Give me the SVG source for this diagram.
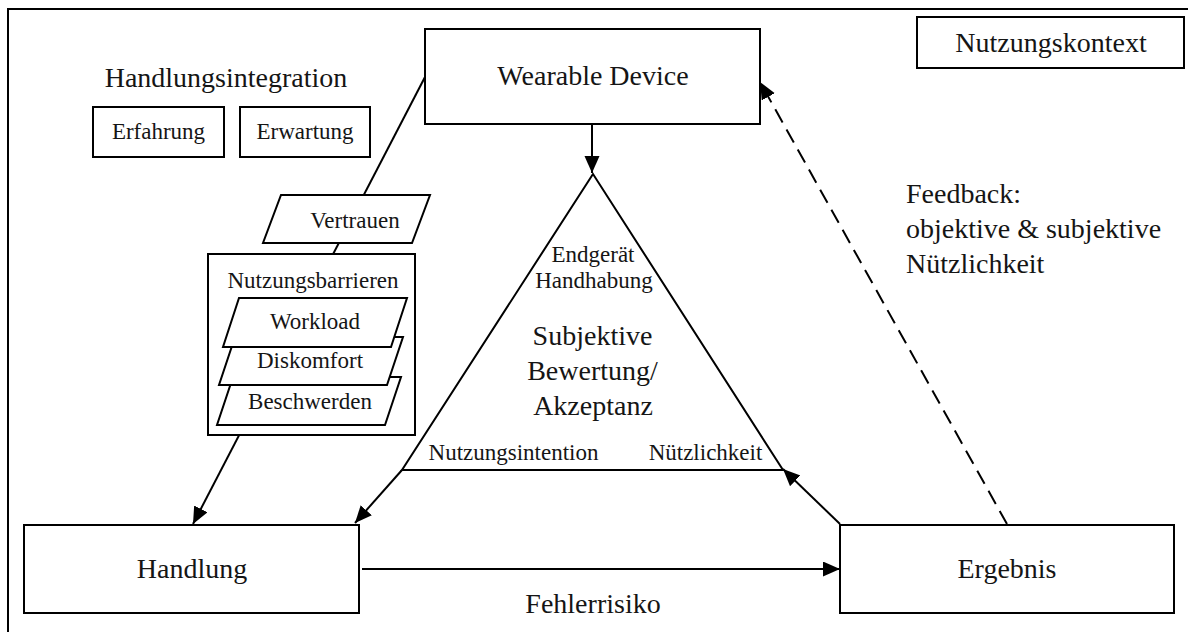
<svg xmlns="http://www.w3.org/2000/svg" width="1188" height="632" viewBox="0 0 1188 632">
<defs>
<style>
.box{fill:#fff;stroke:#000;stroke-width:2}
.ln{fill:none;stroke:#000;stroke-width:2}
.t{font-family:"Liberation Serif","Times New Roman",serif;fill:#151515;text-anchor:middle}
.l{font-size:28px}
.s{font-size:23px}
</style>
<marker id="ah" markerUnits="userSpaceOnUse" markerWidth="18" markerHeight="16" refX="17" refY="7.5" orient="auto">
<path d="M0,0 L17,7.5 L0,15 Z" fill="#000"/>
</marker>
</defs>
<rect x="8" y="9" width="1200" height="650" fill="#fff" stroke="#000" stroke-width="2"/>
<g id="connectors">
<line class="ln" x1="425" y1="77" x2="193" y2="524" marker-end="url(#ah)"/>
<line class="ln" x1="592" y1="124" x2="592" y2="173" marker-end="url(#ah)"/>
<line class="ln" x1="402" y1="470" x2="355" y2="523" marker-end="url(#ah)"/>
<line class="ln" x1="840" y1="524" x2="783" y2="469" marker-end="url(#ah)"/>
<line class="ln" x1="362" y1="569" x2="840" y2="569" marker-end="url(#ah)"/>
<line class="ln" x1="1007" y1="524" x2="760" y2="82" stroke-dasharray="15 8" marker-end="url(#ah)"/>
</g>
<g id="wearable">
<rect class="box" x="425" y="29" width="335" height="95"/>
<text class="t l" x="593" y="85">Wearable Device</text>
</g>
<g id="nutzungskontext">
<rect class="box" x="917" y="17" width="267" height="51"/>
<text class="t l" x="1051" y="52">Nutzungskontext</text>
</g>
<g id="handlungsintegration">
<text class="t l" x="226" y="87">Handlungsintegration</text>
</g>
<g id="erfahrung">
<rect class="box" x="93" y="107" width="131" height="50"/>
<text class="t s" x="158.5" y="139">Erfahrung</text>
</g>
<g id="erwartung">
<rect class="box" x="240" y="107" width="130" height="50"/>
<text class="t s" x="305" y="139">Erwartung</text>
</g>
<g id="vertrauen">
<polygon class="box" points="281,195 430,195 412,243 263,243"/>
<text class="t s" x="355" y="228">Vertrauen</text>
</g>
<g id="nutzungsbarrieren">
<rect class="box" x="208" y="254" width="207" height="181"/>
<text class="t s" x="313" y="288">Nutzungsbarrieren</text>
</g>
<g id="beschwerden">
<polygon class="box" points="233,377 401,377 385,425 217,425"/>
<text class="t s" x="310" y="409">Beschwerden</text>
</g>
<g id="diskomfort">
<polygon class="box" points="235,337 403,337 387,385 219,385"/>
<text class="t s" x="310" y="368">Diskomfort</text>
</g>
<g id="workload">
<polygon class="box" points="239,298 407,298 391,347 223,347"/>
<text class="t s" x="315" y="329">Workload</text>
</g>
<g id="triangle">
<polygon class="ln" points="593,174 402,470 783,470"/>
<text class="t s" x="593" y="262">Endgerät</text>
<text class="t s" x="594" y="288">Handhabung</text>
<text class="t l" x="592.5" y="345">Subjektive</text>
<text class="t l" x="592.5" y="380">Bewertung/</text>
<text class="t l" x="593" y="415">Akzeptanz</text>
<text class="t s" x="513.5" y="460">Nutzungsintention</text>
<text class="t s" x="705.5" y="460">Nützlichkeit</text>
</g>
<g id="feedback">
<text class="t l" x="906" y="203" style="text-anchor:start">Feedback:</text>
<text class="t l" x="906" y="238" style="text-anchor:start">objektive &amp; subjektive</text>
<text class="t l" x="906" y="273" style="text-anchor:start">Nützlichkeit</text>
</g>
<g id="handlung">
<rect class="box" x="24" y="525" width="335" height="88"/>
<text class="t l" x="192" y="578">Handlung</text>
</g>
<g id="ergebnis">
<rect class="box" x="840" y="525" width="334" height="88"/>
<text class="t l" x="1007" y="578">Ergebnis</text>
</g>
<g id="fehlerrisiko">
<text class="t l" x="593" y="613">Fehlerrisiko</text>
</g>
</svg>
